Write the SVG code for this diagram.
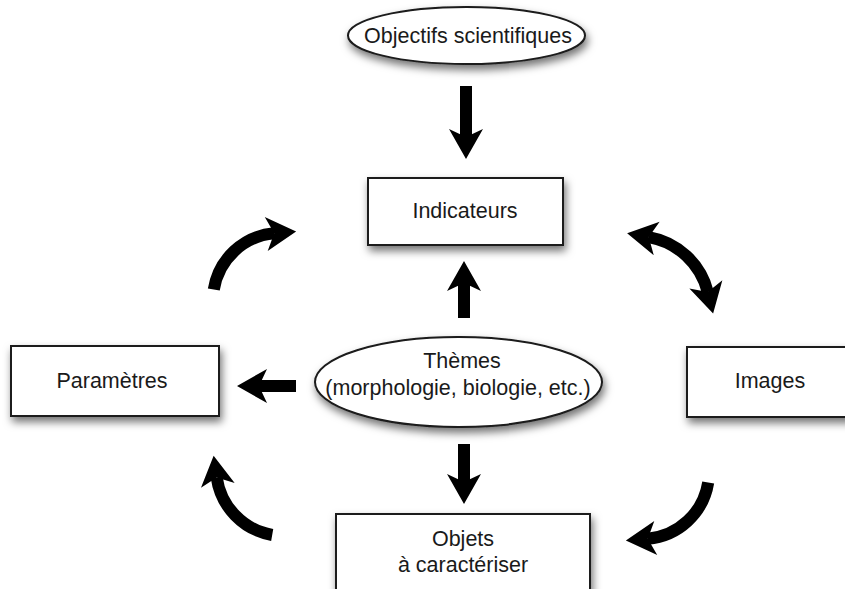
<svg xmlns="http://www.w3.org/2000/svg" width="845" height="589" viewBox="0 0 845 589">
  <defs>
    <filter id="shadow" x="-20%" y="-30%" width="140%" height="170%">
      <feDropShadow dx="2" dy="5" stdDeviation="4" flood-color="#000" flood-opacity="0.55"/>
    </filter>
    <marker id="head" markerUnits="userSpaceOnUse" viewBox="-10 -19 34 38" refX="0" refY="0" markerWidth="34" markerHeight="38" orient="auto-start-reverse" overflow="visible">
      <path d="M22,0 L-8,-17 L0,0 L-8,17 Z" fill="#000"/>
    </marker>
    <style>
      .box { fill: #fff; stroke: #1a1a1a; stroke-width: 2; filter: url(#shadow); }
      .lbl { font-family: "Liberation Sans", Arial, sans-serif; font-size: 21.5px; fill: #1a1a1a; text-anchor: middle; }
      .arr { fill: none; stroke: #000; stroke-width: 12; stroke-linecap: butt; marker-end: url(#head); }
      .dbl { marker-start: url(#head); }
    </style>
  </defs>
  <rect width="845" height="589" fill="#fff"/>

  <g id="connectors">
    <path class="arr" d="M466,86 L466,137"/>
    <path class="arr" d="M464,318 L464,283"/>
    <path class="arr" d="M464,444 L464,482"/>
    <path class="arr" d="M296,386 L259,386"/>
    <path class="arr" d="M213.8,289.5 A67,67 0 0 1 274.2,233.3"/>
    <path class="arr" d="M272.2,535 A68,68 0 0 1 216.7,477.5"/>
    <path class="arr dbl" d="M648.8,237.1 A74,74 0 0 1 707.8,292.1"/>
    <path class="arr" d="M708.2,482.5 A67,67 0 0 1 647.8,538.7"/>
  </g>

  <g id="objectifs">
    <ellipse class="box" cx="466.5" cy="35.5" rx="118.5" ry="28.5"/>
    <text class="lbl" x="468" y="43">Objectifs scientifiques</text>
  </g>

  <g id="indicateurs">
    <rect class="box" x="368" y="178" width="195" height="67"/>
    <text class="lbl" x="465" y="218">Indicateurs</text>
  </g>

  <g id="themes">
    <ellipse class="box" cx="458.5" cy="382" rx="143.5" ry="45"/>
    <text class="lbl" x="462" y="368">Thèmes</text>
    <text class="lbl" x="458" y="395">(morphologie, biologie, etc.)</text>
  </g>

  <g id="parametres">
    <rect class="box" x="11" y="346" width="208" height="70"/>
    <text class="lbl" x="112" y="388">Paramètres</text>
  </g>

  <g id="images">
    <rect class="box" x="687" y="347" width="166" height="70"/>
    <text class="lbl" x="770" y="388">Images</text>
  </g>

  <g id="objets">
    <rect class="box" x="336" y="514" width="254" height="90"/>
    <text class="lbl" x="463" y="546">Objets</text>
    <text class="lbl" x="463" y="572">à caractériser</text>
  </g>
</svg>
